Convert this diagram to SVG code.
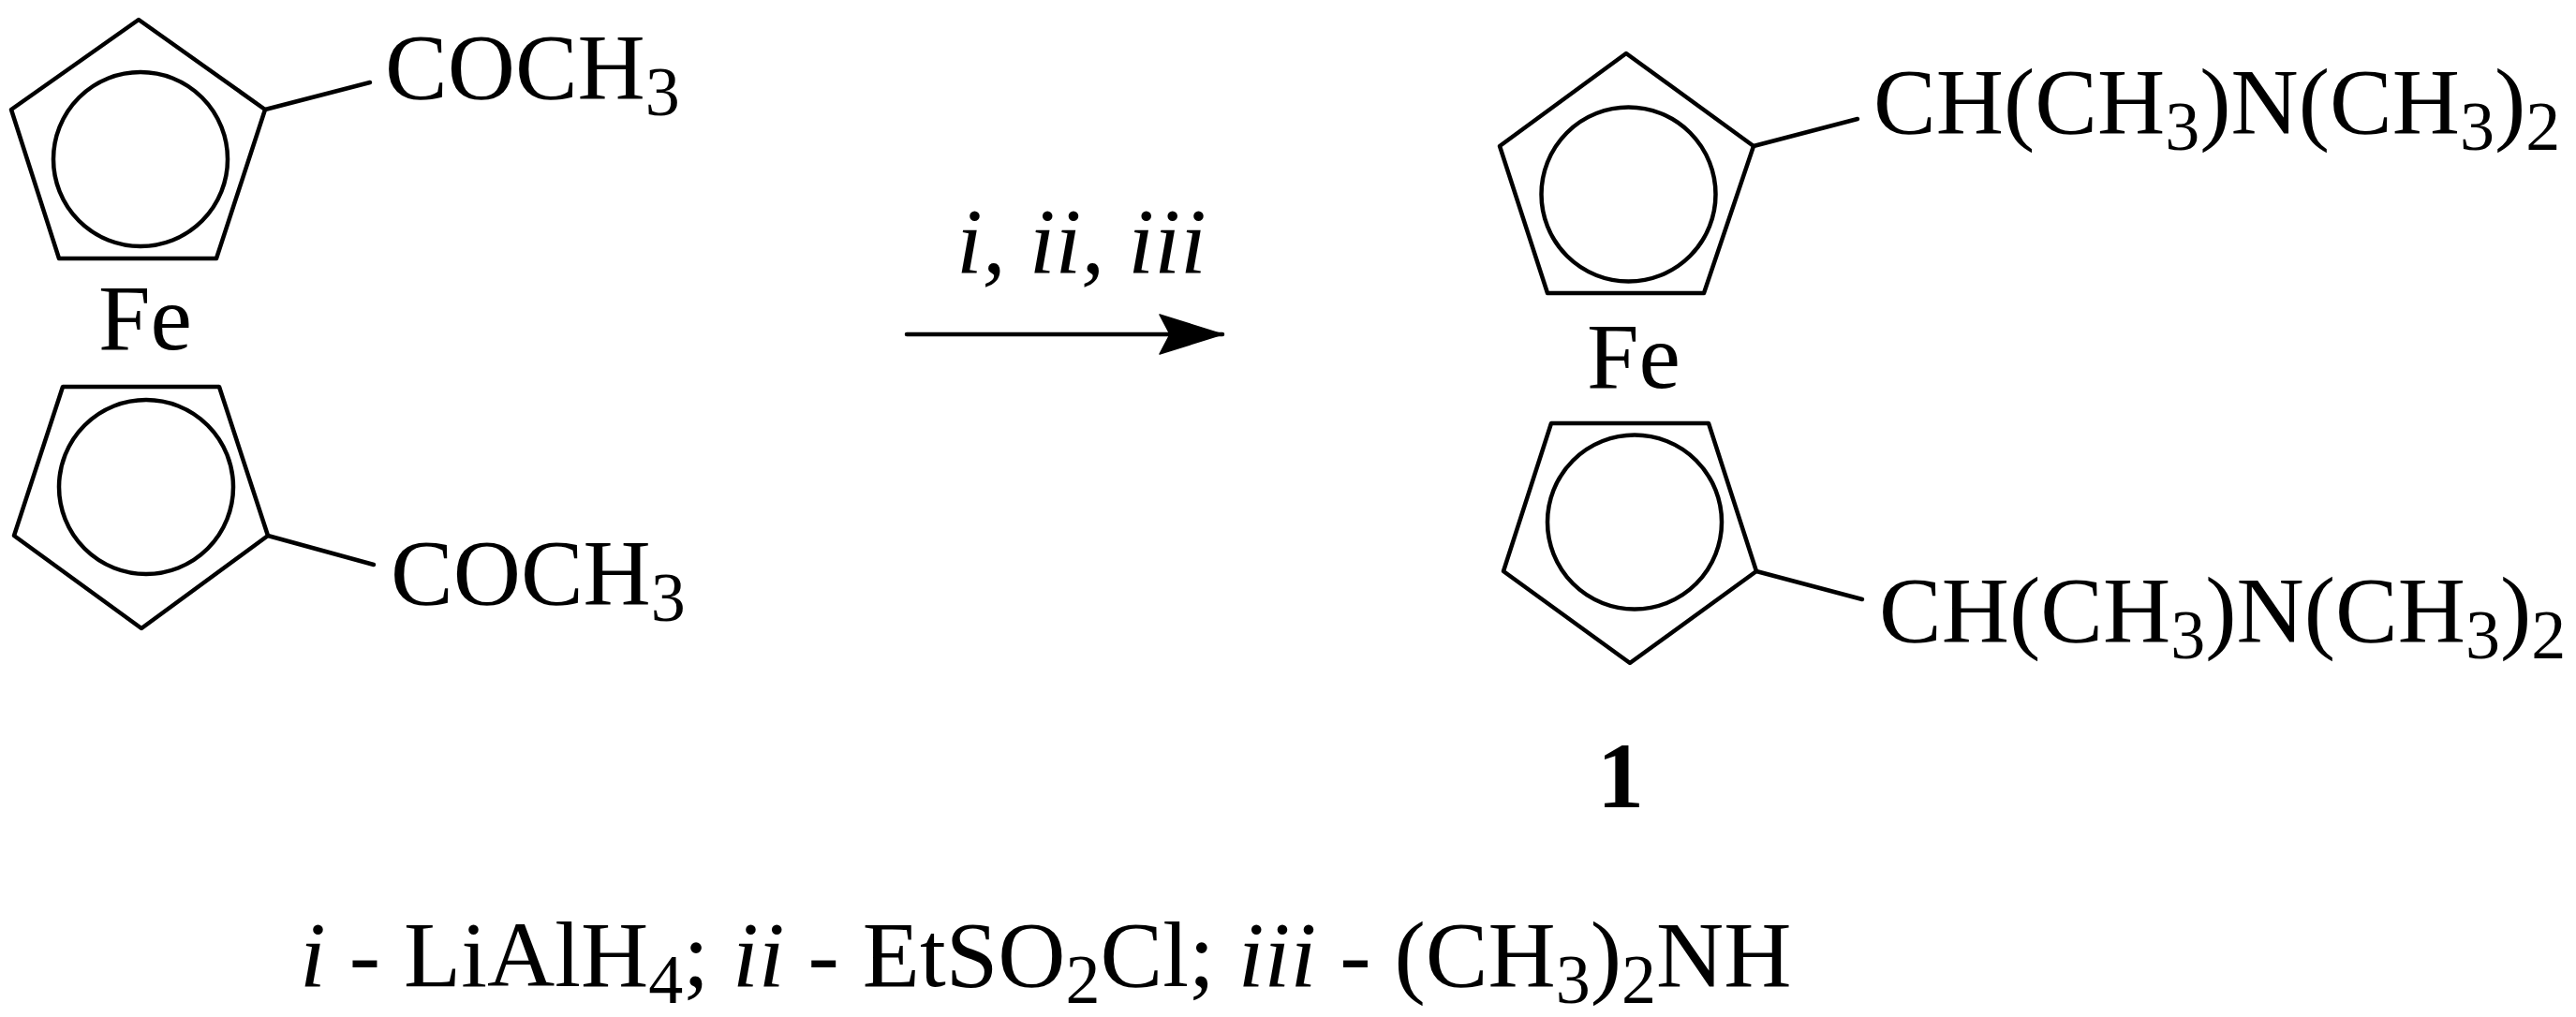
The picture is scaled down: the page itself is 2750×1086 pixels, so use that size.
<svg xmlns="http://www.w3.org/2000/svg" width="2750" height="1086" viewBox="0 0 2750 1086">
<style>
text{font-family:"Liberation Serif","Times New Roman",serif;font-size:100px;fill:#000}
.sub{font-size:74px}
.it{font-style:italic}
.b{font-weight:bold}
.ln{fill:none;stroke:#000;stroke-width:4.5;stroke-linejoin:round;stroke-linecap:round}
</style>
<defs>
<marker id="ah" markerUnits="userSpaceOnUse" markerWidth="72" markerHeight="46" refX="68" refY="23" orient="auto">
<path d="M1 2 L68 23 L1 44 L12 23 Z" fill="#000" stroke="#000" stroke-width="1.5" stroke-linejoin="round"/>
</marker>
</defs>
<rect width="2750" height="1086" fill="#fff"/>
<g id="reactant">
<g id="reactant-ring-top">
<polygon class="ln" points="148,21 283,117 231,276 63,276 12,117"/>
<circle class="ln" cx="150" cy="170" r="93"/>
</g>
<g id="reactant-ring-bottom">
<polygon class="ln" points="67,413 234,413 286,572 151,671 15,572"/>
<circle class="ln" cx="156" cy="520" r="93"/>
</g>
<text id="reactant-fe" x="105" y="373">Fe</text>
<text id="reactant-sub-top" x="411" y="105">COCH<tspan class="sub" dy="18">3</tspan></text>
<text id="reactant-sub-bottom" x="417" y="645">COCH<tspan class="sub" dy="18">3</tspan></text>
</g>
<g id="product">
<g id="product-ring-top">
<polygon class="ln" points="1736,57 1872,156 1819,313 1652,313 1601,156"/>
<circle class="ln" cx="1738.5" cy="207.5" r="93"/>
</g>
<g id="product-ring-bottom">
<polygon class="ln" points="1656,452 1824,452 1875,610 1740,708 1605,610"/>
<circle class="ln" cx="1745" cy="557.5" r="93"/>
</g>
<text id="product-fe" x="1694" y="414">Fe</text>
<text id="product-sub-top" x="2000" y="142">CH(CH<tspan class="sub" dy="18">3</tspan><tspan dy="-18">)N(CH</tspan><tspan class="sub" dy="18">3</tspan><tspan dy="-18">)</tspan><tspan class="sub" dy="18">2</tspan></text>
<text id="product-sub-bottom" x="2006" y="685">CH(CH<tspan class="sub" dy="18">3</tspan><tspan dy="-18">)N(CH</tspan><tspan class="sub" dy="18">3</tspan><tspan dy="-18">)</tspan><tspan class="sub" dy="18">2</tspan></text>
<text id="product-label" class="b" x="1705" y="862">1</text>
</g>
<g id="connectors">
<line class="ln" x1="283" y1="117" x2="395" y2="88"/>
<line class="ln" x1="286" y1="572" x2="399" y2="603"/>
<line class="ln" x1="1872" y1="156" x2="1983" y2="127"/>
<line class="ln" x1="1875" y1="610" x2="1988" y2="640"/>
<line class="ln" x1="968" y1="357" x2="1305" y2="357" marker-end="url(#ah)"/>
</g>
<text id="reagents-over-arrow" class="it" x="1021" y="291">i, ii, iii</text>
<text id="conditions" x="320" y="1053"><tspan class="it">i</tspan> - LiAlH<tspan class="sub" dy="18">4</tspan><tspan dy="-18">; </tspan><tspan class="it">ii</tspan> - EtSO<tspan class="sub" dy="18">2</tspan><tspan dy="-18">Cl; </tspan><tspan class="it">iii</tspan> - (CH<tspan class="sub" dy="18">3</tspan><tspan dy="-18">)</tspan><tspan class="sub" dy="18">2</tspan><tspan dy="-18">NH</tspan></text>
</svg>
